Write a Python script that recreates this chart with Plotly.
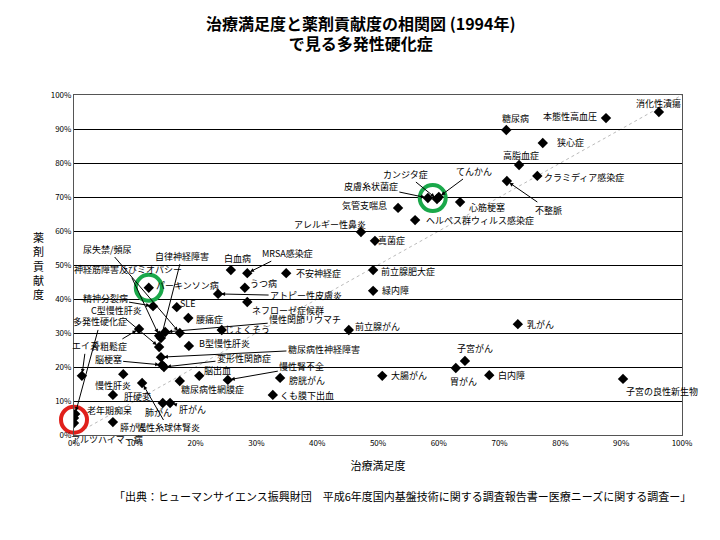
import plotly.graph_objects as go

names = ["消化性潰瘍","本態性高血圧","糖尿病","狭心症","高脂血症","クラミディア感染症","不整脈",
 "カンジタ症","てんかん","皮膚糸状菌症","心筋梗塞","気管支喘息","ヘルペス群ウィルス感染症",
 "アレルギー性鼻炎","真菌症","前立腺肥大症","緑内障","乳がん","前立腺がん","不安神経症",
 "子宮がん","胃がん","白内障","子宮の良性新生物","大腸がん","膀胱がん","くも膜下出血",
 "白血病","MRSA感染症","うつ病","アトピー性皮膚炎","ネフローゼ症候群","パーキンソン病",
 "精神分裂病","SLE","腰痛症","じょくそう","慢性関節リウマチ","骨粗鬆症","C型慢性肝炎",
 "尿失禁/頻尿","自律神経障害","神経筋障害及びミオパシー","B型慢性肝炎","糖尿病性神経障害",
 "脳梗塞","変形性関節症","エイズ","慢性腎不全","脳出血","慢性肝炎","慢性糸球体腎炎","肝硬変",
 "糖尿病性網膜症","膵がん","肺がん","肝がん","老年期痴呆","アルツハイマー病","多発性硬化症"]
satisfaction = [96.2,87.5,71.1,77.1,73.2,76.2,71.2,
 59.7,60.0,58.2,63.5,53.3,56.1,
 47.2,49.5,49.2,49.2,73.0,45.2,34.9,
 64.3,62.8,68.3,90.3,50.7,33.9,32.7,
 25.8,28.5,28.1,23.7,28.5,12.3,
 13.0,16.9,18.8,24.3,15.0,10.7,14.0,
 17.4,14.3,14.0,18.9,14.3,
 14.5,14.8,1.3,25.3,20.6,8.1,11.2,6.4,
 17.4,6.4,14.6,15.8,0.0,0.0,0.2]
contribution = [95.0,93.2,89.7,85.9,79.4,76.2,74.7,
 69.4,70.0,69.7,68.5,66.8,63.2,
 59.7,57.1,48.5,42.4,32.6,30.9,47.6,
 21.8,19.7,17.6,16.5,17.4,16.8,11.8,
 48.5,47.6,43.3,41.5,39.1,43.3,
 37.9,37.6,34.4,30.9,30.3,31.2,25.9,
 30.0,28.5,29.2,26.2,22.9,
 20.6,20.0,17.4,16.2,17.4,17.9,15.3,11.8,
 15.9,3.8,9.4,9.4,5.0,3.5,6.2]
# label placement (pixels): (dx, dy, arrow)
place = {"消化性潰瘍":(0,-9,0),"本態性高血圧":(-36,-2,0),"糖尿病":(9,-12,0),"狭心症":(28,0,0),
 "高脂血症":(2,-10,0),"クラミディア感染症":(47,2,0),"不整脈":(42,29,1),"カンジタ症":(-31,-25,1),
 "てんかん":(35,-26,1),"皮膚糸状菌症":(-57,-12,1),"心筋梗塞":(27,5,0),"気管支喘息":(-34,-2,0),
 "ヘルペス群ウィルス感染症":(65,0,0),"アレルギー性鼻炎":(-31,-8,0),"真菌症":(17,0,0),
 "前立腺肥大症":(35,1,0),"緑内障":(22,0,0),"乳がん":(23,0,0),"前立腺がん":(29,-3,0),
 "不安神経症":(32,0,0),"子宮がん":(10,-12,0),"胃がん":(8,13,0),"白内障":(22,0,0),
 "子宮の良性新生物":(39,13,0),"大腸がん":(27,0,0),"膀胱がん":(27,3,0),"くも膜下出血":(34,1,0),
 "白血病":(7,-12,0),"MRSA感染症":(40,-20,1),"うつ病":(19,-4,0),"アトピー性皮膚炎":(88,2,1),
 "ネフローゼ症候群":(41,8,1),"パーキンソン病":(39,-2,0),"精神分裂病":(-48,-8,1),"SLE":(11,-4,0),
 "腰痛症":(21,1,0),"じょくそう":(26,0,0),"慢性関節リウマチ":(140,-12,1),"骨粗鬆症":(-30,18,1),
 "C型慢性肝炎":(-43,-36,1),"尿失禁/頻尿":(-72,-84,1),"自律神経障害":(21,-82,1),
 "神経筋障害及びミオパシー":(-31,-66,1),"B型慢性肝炎":(36,-2,0),"糖尿病性神経障害":(163,-8,1),
 "脳梗塞":(-54,-5,1),"変形性関節症":(80,-9,1),"エイズ":(4,-30,1),"慢性腎不全":(74,-13,1),
 "脳出血":(18,-5,0),"慢性肝炎":(-10,11,0),"慢性糸球体腎炎":(26,45,1),"肝硬変":(25,2,0),
 "糖尿病性網膜症":(33,9,0),"膵がん":(21,5,0),"肺がん":(-4,9,0),"肝がん":(22,6,1),
 "老年期痴呆":(35,-8,0),"アルツハイマー病":(33,16,0),"多発性硬化症":(25,-92,1)}

F = "Noto Sans CJK JP"
fig = go.Figure()
fig.add_shape(type="line", x0=0, y0=0, x1=100, y1=100, line=dict(color="#bbbbbb", width=1, dash="dot"), layer="below")
fig.add_trace(go.Scatter(x=satisfaction, y=contribution, mode="markers",
    marker=dict(symbol="diamond", size=8, color="black"), hoverinfo="text", text=names))
for n, x, y in zip(names, satisfaction, contribution):
    dx, dy, arr = place[n]
    if arr:
        fig.add_annotation(x=x, y=y, text=n, showarrow=True, ax=dx, ay=dy, arrowhead=2,
            arrowsize=0.8, arrowwidth=1, arrowcolor="black", standoff=3, font=dict(size=9, color="black", family=F))
    else:
        fig.add_annotation(x=x, y=y, text=n, showarrow=False, xshift=dx, yshift=-dy,
            font=dict(size=9, color="black", family=F))
# highlight circles
circles = [(12.3, 43.3, "#1aa84a"), (59.0, 69.7, "#1aa84a"), (0.0, 4.5, "#e0201b")]
for cx, cy, col in circles:
    fig.add_trace(go.Scatter(x=[cx], y=[cy], mode="markers", hoverinfo="skip", cliponaxis=False,
        marker=dict(symbol="circle-open", size=26, color=col, line=dict(width=4, color=col))))
fig.update_layout(width=720, height=540, showlegend=False, plot_bgcolor="white", paper_bgcolor="white",
    margin=dict(l=66, r=46, t=87, b=113), font=dict(family=F, color="black"),
    title=dict(text="<b>治療満足度と薬剤貢献度の相関図 (1994年)<br>で見る多発性硬化症</b>", x=0.49, y=0.96,
               xanchor="center", yanchor="top", font=dict(size=16)))
fig.update_xaxes(range=[0, 100], tickvals=list(range(0, 101, 10)), ticktext=[f"{v}%" for v in range(0, 101, 10)],
    showgrid=False, zeroline=False, showline=True, linecolor="#555", mirror=True, tickfont=dict(size=8),
    ticks="", title=dict(text="治療満足度", font=dict(size=11)))
fig.update_yaxes(range=[0, 100], tickvals=list(range(0, 101, 10)), ticktext=[f"{v}%" for v in range(0, 101, 10)],
    showgrid=True, gridcolor="black", gridwidth=1, zeroline=False, showline=True, linecolor="#555", mirror=True,
    tickfont=dict(size=8), ticks="")
fig.add_annotation(x=-0.07, y=0.5, xref="paper", yref="paper", text="薬<br>剤<br>貢<br>献<br>度", showarrow=False,
    font=dict(size=11, family=F))
fig.add_annotation(x=0.54, y=-0.21, xref="paper", yref="paper", xanchor="center", showarrow=False,
    text="「出典：ヒューマンサイエンス振興財団　平成6年度国内基盤技術に関する調査報告書ー医療ニーズに関する調査ー」",
    font=dict(size=11, family=F))
fig.write_html("out.html")
